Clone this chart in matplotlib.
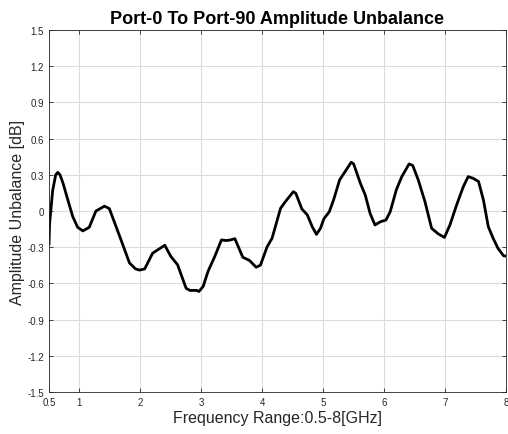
import matplotlib
matplotlib.use("Agg")
import matplotlib.pyplot as plt

plt.rcParams['font.family'] = ['Liberation Sans', 'DejaVu Sans']

# values
freq = [0.5, 0.51, 0.56, 0.61, 0.644, 0.68, 0.73, 0.81, 0.89, 0.97, 1.055,
        1.16, 1.27, 1.41, 1.49, 1.66, 1.82, 1.92, 1.985, 2.07, 2.2, 2.29,
        2.40, 2.5, 2.61, 2.75, 2.81, 2.92, 2.96, 3.03, 3.11, 3.22, 3.33,
        3.41, 3.48, 3.55, 3.68, 3.79, 3.90, 3.97, 4.08, 4.16, 4.30, 4.38,
        4.51, 4.55, 4.65, 4.74, 4.82, 4.89, 4.955, 5.01, 5.10, 5.17, 5.27,
        5.36, 5.46, 5.50, 5.61, 5.69, 5.77, 5.85, 5.94, 6.03, 6.10, 6.20,
        6.29, 6.41, 6.47, 6.56, 6.67, 6.78, 6.89, 6.99, 7.08, 7.19, 7.30,
        7.38, 7.46, 7.55, 7.63, 7.71, 7.79, 7.87, 7.96, 8.0]
unbalance = [-0.27, -0.10, 0.17, 0.30, 0.32, 0.30, 0.23, 0.09, -0.047, -0.135, -0.165,
             -0.135, 0.0, 0.04, 0.02, -0.21, -0.43, -0.48, -0.49, -0.48, -0.35, -0.32,
             -0.284, -0.377, -0.446, -0.64, -0.658, -0.658, -0.667, -0.625, -0.50, -0.377, -0.24,
             -0.245, -0.24, -0.229, -0.383, -0.41, -0.466, -0.449, -0.296, -0.227, 0.022, 0.078,
             0.16, 0.147, 0.017, -0.033, -0.13, -0.194, -0.144, -0.066, -0.006, 0.091, 0.258,
             0.327, 0.404, 0.39, 0.23, 0.133, -0.02, -0.116, -0.089, -0.075, -0.006, 0.175,
             0.285, 0.39, 0.377, 0.258, 0.078, -0.144, -0.19, -0.219, -0.116, 0.05, 0.202,
             0.285, 0.271, 0.244, 0.091, -0.13, -0.227, -0.31, -0.371, -0.374]

xticks = [0.5, 1, 2, 3, 4, 5, 6, 7, 8]
xticklabels = ['0.5', '1', '2', '3', '4', '5', '6', '7', '8']
yticks = [-1.5, -1.2, -0.9, -0.6, -0.3, 0, 0.3, 0.6, 0.9, 1.2, 1.5]
yticklabels = ['-1.5', '-1.2', '-0.9', '-0.6', '-0.3', '0', '0.3', '0.6', '0.9', '1.2', '1.5']

fig = plt.figure(figsize=(5.08, 4.35), dpi=100)
ax = fig.add_axes([0.0965, 0.0966, 0.8995, 0.8321])

ax.plot(freq, unbalance, color='black', linewidth=2.0, solid_joinstyle='round')

ax.set_xlim(0.5, 8)
ax.set_ylim(-1.5, 1.5)
ax.set_xticks(xticks)
ax.set_xticklabels(xticklabels)
ax.set_yticks(yticks)
ax.set_yticklabels(yticklabels)
ax.tick_params(direction='in', top=True, right=True, labelsize=7, colors='#262626',
               length=3, width=0.6)
ax.grid(True, color='#dcdcdc', linewidth=0.8)
for s in ax.spines.values():
    s.set_color('#262626')
    s.set_linewidth(0.6)

ax.set_title("Port-0 To Port-90 Amplitude Unbalance", fontsize=13, fontweight='bold', pad=5)
ax.set_xlabel("Frequency Range:0.5-8[GHz]", fontsize=11.5, color='#262626', labelpad=2)
ax.set_ylabel("Amplitude Unbalance [dB]", fontsize=11.5, color='#262626', labelpad=2)

fig.savefig("out.png", dpi=100)
